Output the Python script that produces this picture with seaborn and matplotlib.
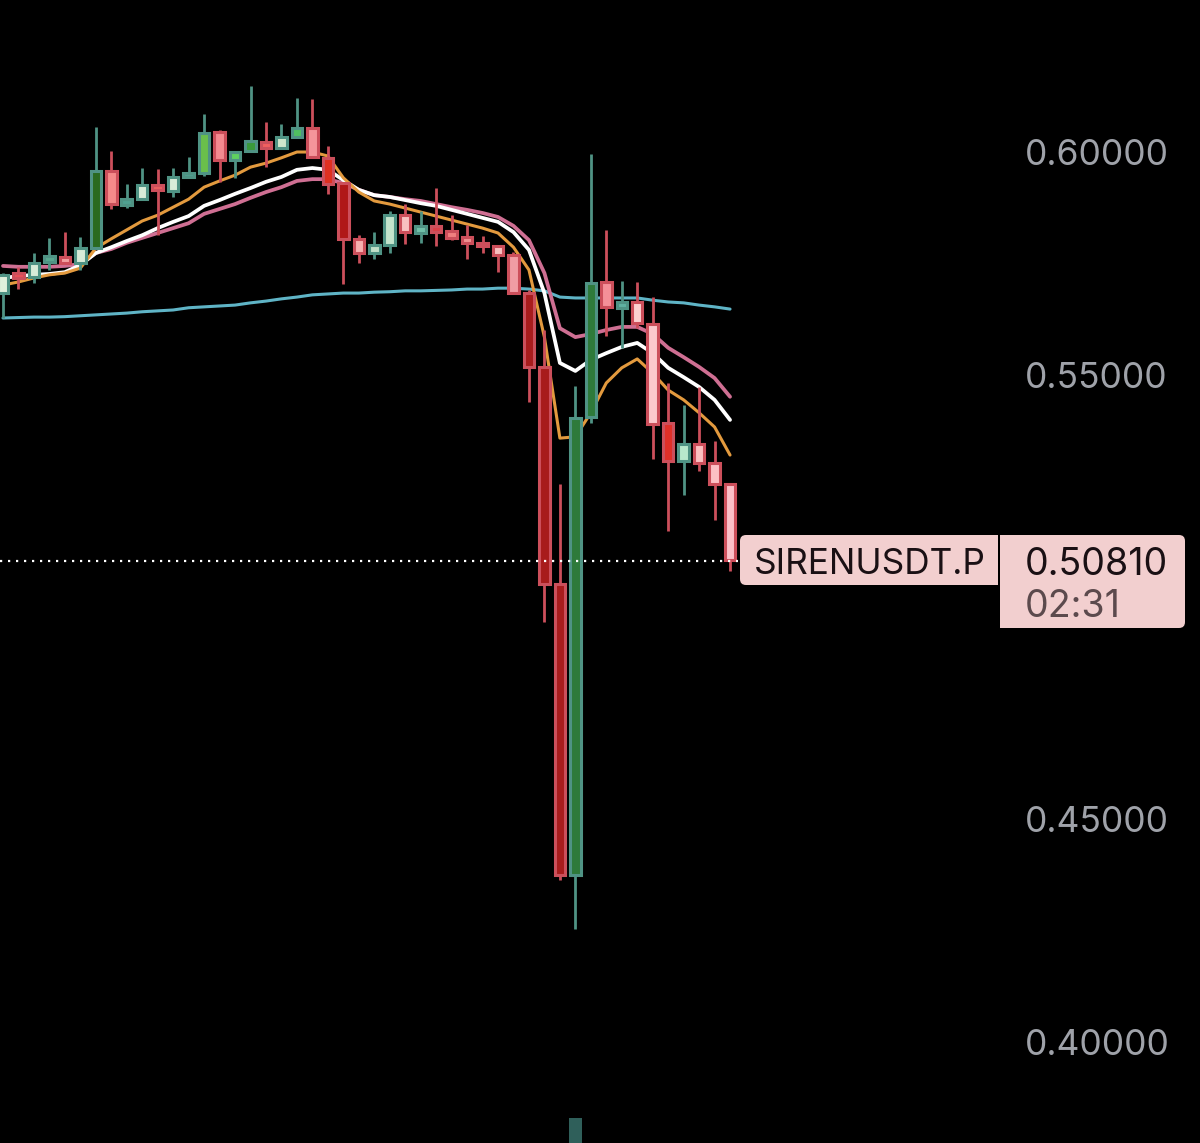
import numpy as np
import pandas as pd
import seaborn as sns
import matplotlib
matplotlib.use("Agg")
import matplotlib.pyplot as plt
from matplotlib.patches import FancyBboxPatch, Rectangle
from matplotlib.transforms import Affine2D

opens = [.5683,.5728,.5719,.5753,.5764,.5751,.5784,.5957,.5881,.5894,.5926,.5912,.5944,.5953,.6045,.5982,
         .6002,.6023,.6009,.6034,.6054,.5987,.5930,.5805,.5773,.5791,.5858,.5818,.5834,.5822,.5809,.5796,
         .5789,.5769,.5683,.5517,.5029,.4375,.5404,.5708,.5650,.5663,.5613,.5391,.5306,.5344,.5301,.5254]
closes = [.5724,.5717,.5751,.5766,.5751,.5784,.5957,.5883,.5894,.5926,.5915,.5944,.5953,.6043,.5982,.6000,
          .6025,.6009,.6034,.6054,.5989,.5928,.5805,.5773,.5791,.5858,.5820,.5834,.5820,.5807,.5796,.5789,
          .5769,.5683,.5517,.5029,.4375,.5402,.5706,.5652,.5663,.5616,.5389,.5306,.5344,.5301,.5254,.5083]
highs = [.5728,.5742,.5773,.5807,.5820,.5809,.6056,.6002,.5928,.5964,.5962,.5964,.5989,.6085,.6050,.6000,
         .6148,.6068,.6063,.6121,.6119,.6013,.5930,.5813,.5820,.5867,.5883,.5867,.5919,.5858,.5836,.5811,
         .5791,.5775,.5690,.5600,.5254,.5474,.5996,.5825,.5710,.5708,.5674,.5481,.5432,.5472,.5351,.5254]
lows = [.5627,.5692,.5706,.5735,.5751,.5735,.5784,.5872,.5874,.5892,.5813,.5899,.5944,.5946,.5933,.5942,
        .6002,.5966,.6009,.6034,.5989,.5906,.5703,.5751,.5760,.5773,.5793,.5796,.5789,.5802,.5760,.5773,
        .5730,.5683,.5438,.4944,.4364,.4254,.5391,.5587,.5560,.5605,.5310,.5148,.5229,.5283,.5173,.5058]
body_fills = ["#dff0dc","#e85058","#d8ecd8","#5aa890","#f0a0a0","#d8ecd8","#2a6a20","#f58a8a","#50a090","#d8ecd8",
              "#e86060","#d8ecd8","#50a090","#6abf4b","#f48a90","#5fd060","#3a9a3a","#f06060","#cfe8cc","#50c060",
              "#f4959a","#e03020","#b01818","#f8b0b0","#c0e0c8","#c4e4cc","#f8c0c0","#70c0a8","#d84048","#f08080",
              "#f09090","#e06060","#f8c0c0","#f09ca4","#a81c1c","#a81c1c","#a81c1c","#2e7a3a","#2e7a3a","#f49098",
              "#60b0a0","#fcd0d0","#fcc8cc","#e03028","#b8e8cc","#fcc0c0","#fcc0c4","#fcc0c8"]

ema_orange = [.5701,.5708,.5717,.5724,.5728,.5739,.5784,.5805,.5825,.5845,.5858,.5876,.5894,.5921,.5935,.5948,
              .5966,.5975,.5987,.6000,.6000,.5991,.5942,.5910,.5890,.5883,.5874,.5865,.5856,.5847,.5838,.5829,
              .5818,.5786,.5735,.5584,.5357,.5360,.5414,.5481,.5515,.5535,.5503,.5465,.5443,.5414,.5382,.5319]
ema_white = [.5717,.5721,.5724,.5726,.5730,.5746,.5773,.5786,.5800,.5813,.5829,.5843,.5856,.5879,.5892,.5906,
             .5919,.5933,.5944,.5960,.5964,.5960,.5937,.5915,.5903,.5899,.5892,.5885,.5879,.5870,.5861,.5852,
             .5843,.5820,.5780,.5683,.5526,.5508,.5533,.5548,.5562,.5571,.5548,.5515,.5494,.5472,.5443,.5398]
ema_pink = [.5744,.5742,.5742,.5742,.5744,.5748,.5773,.5782,.5796,.5807,.5818,.5829,.5840,.5861,.5872,.5883,
            .5897,.5910,.5921,.5935,.5939,.5939,.5930,.5915,.5903,.5899,.5894,.5890,.5883,.5876,.5870,.5863,
            .5854,.5834,.5802,.5728,.5604,.5584,.5591,.5600,.5607,.5607,.5591,.5560,.5539,.5517,.5492,.5450]
ema_blue = [.5627,.5628,.5629,.5629,.5630,.5632,.5634,.5636,.5638,.5641,.5643,.5645,.5650,.5652,.5654,.5656,
            .5661,.5665,.5670,.5674,.5679,.5681,.5683,.5683,.5685,.5686,.5688,.5688,.5689,.5690,.5692,.5692,
            .5694,.5694,.5692,.5688,.5674,.5672,.5672,.5672,.5672,.5672,.5667,.5663,.5661,.5656,.5652,.5647]

price_ticks = [0.40, 0.45, 0.55, 0.60]
last_price = 0.5081
symbol = "SIRENUSDT.P"
countdown = "02:31"
volume_index = 37
volume_top = 0.3829

W, H = 1200, 1143
Y_TOP, Y_BOTTOM = 0.63416, 0.37730
X_LEFT, X_RIGHT = -0.194, 77.38

sns.set_theme(style="dark", rc={"axes.facecolor": "black", "figure.facecolor": "black", "axes.grid": False})
plt.rcParams["font.family"] = ["Inter", "DejaVu Sans"]

fig = plt.figure(figsize=(W / 100, H / 100), dpi=100, facecolor="black")
ax = fig.add_axes([0, 0, 1, 1])
ax.set_facecolor("black")

idx = np.arange(len(opens))
df = pd.DataFrame({"i": idx, "orange": ema_orange, "white": ema_white, "pink": ema_pink, "blue": ema_blue})
for col, colr, lw in [("blue", "#5fb4c6", 2.2), ("pink", "#cf6f93", 2.7), ("white", "#ffffff", 2.7), ("orange", "#e39a3e", 2.2)]:
    sns.lineplot(data=df, x="i", y=col, color=colr, lw=lw, ax=ax, zorder=2, legend=False, errorbar=None)

RED, GREEN = "#cc4f5b", "#4f9384"
opens_a, closes_a = np.array(opens), np.array(closes)
rising = closes_a >= opens_a
edge = [GREEN if r else RED for r in rising]
ax.vlines(idx, lows, highs, colors=edge, linewidth=2.0, zorder=3)
ax.bar(idx, np.abs(closes_a - opens_a), bottom=np.minimum(opens_a, closes_a), width=0.68,
       color=body_fills, edgecolor=edge, linewidth=2.2, zorder=4)

ax.bar([volume_index], [volume_top - Y_BOTTOM], bottom=Y_BOTTOM, width=0.84, color="#2f5f5a", edgecolor="none", zorder=3)

ax.plot([X_LEFT, idx[-1] + 0.5], [last_price, last_price], color="white", lw=1.6, ls=(0, (1, 2.6)), zorder=5)

ax.set_xlim(X_LEFT, X_RIGHT)
ax.set_ylim(Y_BOTTOM, Y_TOP)
ax.set_xticks([])
ax.set_yticks(price_ticks)
ax.set_yticklabels([f"{t:.5f}" for t in price_ticks])
ax.yaxis.tick_right()
ax.tick_params(axis="y", length=0, pad=-126, labelsize=25.5, labelcolor="#9fa2a9")
ax.set_xlabel("")
ax.set_ylabel("")
for s in ax.spines.values():
    s.set_visible(False)

px = Affine2D().scale(1 / W, -1 / H).translate(0, 1) + fig.transFigure
BOX = "#f2cfcf"
def rbox(x0, y0, x1, y1):
    fig.add_artist(FancyBboxPatch((x0 + 6, y0 + 6), x1 - x0 - 12, y1 - y0 - 12,
                                  boxstyle="round,pad=6,rounding_size=6", fc=BOX, ec="none", transform=px, zorder=6))
def sbox(x0, y0, x1, y1):
    fig.add_artist(Rectangle((x0, y0), x1 - x0, y1 - y0, fc=BOX, ec="none", transform=px, zorder=6))
rbox(740, 535, 998, 585); sbox(760, 535, 998, 585)
rbox(1000, 535, 1185, 628); sbox(1000, 535, 1160, 628)

fig.text(754 / W, 1 - 565 / H, symbol, color="#1a1014", fontsize=25.3, va="center", ha="left", zorder=7)
fig.text(1025 / W, 1 - 565 / H, f"{last_price:.5f}", color="#1a1014", fontsize=27, va="center", ha="left", zorder=7)
fig.text(1025 / W, 1 - 607 / H, countdown, color="#5c4a4d", fontsize=27, va="center", ha="left", zorder=7)

fig.savefig("out.png", dpi=100, facecolor="black")
